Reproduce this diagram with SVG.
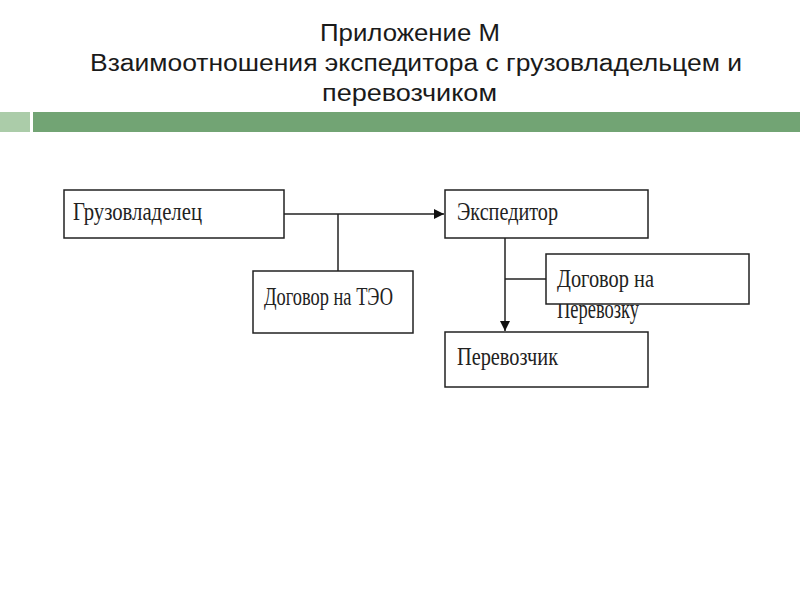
<svg xmlns="http://www.w3.org/2000/svg" width="800" height="600" viewBox="0 0 800 600">
<defs>
<style>
.title{font-family:"Liberation Sans",Arial,sans-serif;font-size:23px;fill:#1a1a1a}
.box{fill:#fff;stroke:#222;stroke-width:1.5}
.lbl{font-family:"Liberation Serif","Times New Roman",serif;font-size:25px;fill:#222}
.ln{fill:none;stroke:#222;stroke-width:1.5}
</style>
<marker id="arr" viewBox="0 0 10 10" refX="10" refY="5" markerWidth="10" markerHeight="10" markerUnits="userSpaceOnUse" orient="auto">
<path d="M0,0 L10,5 L0,10 Z" fill="#111"/>
</marker>
</defs>
<rect width="800" height="600" fill="#fff"/>
<text class="title" x="320" y="41" textLength="180" lengthAdjust="spacingAndGlyphs">Приложение М</text>
<text class="title" x="90" y="71" textLength="652" lengthAdjust="spacingAndGlyphs">Взаимоотношения экспедитора с грузовладельцем и</text>
<text class="title" x="322" y="101" textLength="175" lengthAdjust="spacingAndGlyphs">перевозчиком</text>
<rect x="0" y="112" width="30" height="20" fill="#abcca9"/>
<rect x="33" y="112" width="767" height="20" fill="#72a474"/>
<g id="connectors">
<line class="ln" x1="284" y1="214" x2="444" y2="214" marker-end="url(#arr)"/>
<line class="ln" x1="338" y1="214" x2="338" y2="271"/>
<line class="ln" x1="505" y1="238" x2="505" y2="331" marker-end="url(#arr)"/>
<line class="ln" x1="505" y1="279" x2="546" y2="279"/>
</g>
<g id="gruzovladelec">
<rect class="box" x="64" y="190" width="220" height="48"/>
<text class="lbl" x="73" y="220" textLength="129" lengthAdjust="spacingAndGlyphs">Грузовладелец</text>
</g>
<g id="dogovor-teo">
<rect class="box" x="253" y="271" width="160" height="62"/>
<text class="lbl" x="264" y="305" textLength="129" lengthAdjust="spacingAndGlyphs">Договор на ТЭО</text>
</g>
<g id="ekspeditor">
<rect class="box" x="445" y="190" width="203" height="48"/>
<text class="lbl" x="457" y="220" textLength="101" lengthAdjust="spacingAndGlyphs">Экспедитор</text>
</g>
<g id="dogovor-perevozku">
<text class="lbl" x="557" y="318" textLength="82" lengthAdjust="spacingAndGlyphs" style="font-size:27px">Перевозку</text>
<rect class="box" x="546" y="254" width="203" height="50"/>
<text class="lbl" x="557" y="287" textLength="97" lengthAdjust="spacingAndGlyphs">Договор на</text>
</g>
<g id="perevozchik">
<rect class="box" x="445" y="332" width="203" height="55"/>
<text class="lbl" x="457" y="365" textLength="101" lengthAdjust="spacingAndGlyphs">Перевозчик</text>
</g>
</svg>
